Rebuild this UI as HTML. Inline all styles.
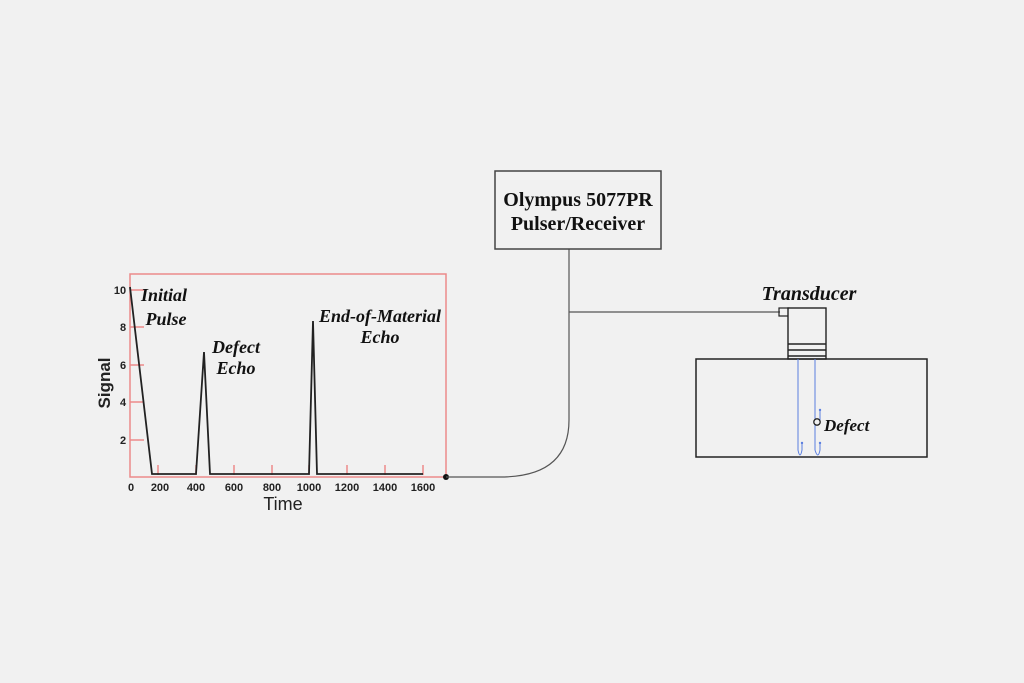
<!DOCTYPE html>
<html><head><meta charset="utf-8"><style>
html,body{margin:0;padding:0;background:#f1f1f1;width:1024px;height:683px;overflow:hidden}
svg{display:block}
.ser{font-family:"Liberation Serif",serif;font-weight:bold}
.ita{font-family:"Liberation Serif",serif;font-weight:bold;font-style:italic}
.san{font-family:"Liberation Sans",sans-serif;font-weight:bold}
</style></head><body>
<svg width="1024" height="683" viewBox="0 0 1024 683" xmlns="http://www.w3.org/2000/svg">
<rect width="1024" height="683" fill="#f1f1f1"/>
<rect x="130" y="274" width="316" height="203" fill="none" stroke="#ec8a8a" stroke-width="1.5"/>
<g stroke="#ec8a8a" stroke-width="1.5">
<line x1="130" y1="290" x2="144" y2="290"/>
<line x1="130" y1="327" x2="144" y2="327"/>
<line x1="130" y1="365" x2="144" y2="365"/>
<line x1="130" y1="402" x2="144" y2="402"/>
<line x1="130" y1="440" x2="144" y2="440"/>
<line x1="158" y1="465" x2="158" y2="475"/>
<line x1="196" y1="465" x2="196" y2="475"/>
<line x1="234" y1="465" x2="234" y2="475"/>
<line x1="272" y1="465" x2="272" y2="475"/>
<line x1="309" y1="465" x2="309" y2="475"/>
<line x1="347" y1="465" x2="347" y2="475"/>
<line x1="385" y1="465" x2="385" y2="475"/>
<line x1="423" y1="465" x2="423" y2="475"/>
</g>
<polyline points="130,287 152,474 196,474 204,352 210,474 309,474 313,321 317,474 423,474" fill="none" stroke="#222" stroke-width="1.8"/>
<g class="san" font-size="11" fill="#222" text-anchor="middle">
<text x="120" y="294">10</text><text x="123" y="331">8</text><text x="123" y="369">6</text><text x="123" y="406">4</text><text x="123" y="444">2</text>
<text x="131" y="491">0</text><text x="160" y="491">200</text><text x="196" y="491">400</text><text x="234" y="491">600</text><text x="272" y="491">800</text><text x="309" y="491">1000</text><text x="347" y="491">1200</text><text x="385" y="491">1400</text><text x="423" y="491">1600</text>
</g>
<text x="283" y="510" font-family="Liberation Sans, sans-serif" font-size="18" fill="#222" text-anchor="middle">Time</text>
<text transform="translate(110,383) rotate(-90)" class="san" font-size="17" fill="#222" text-anchor="middle">Signal</text>
<g class="ita" font-size="18" fill="#111" text-anchor="middle">
<text x="164" y="301">Initial</text><text x="166" y="325">Pulse</text>
<text x="236" y="353">Defect</text><text x="236" y="374">Echo</text>
<text x="380" y="322">End-of-Material</text><text x="380" y="343">Echo</text>
</g>
<circle cx="446" cy="477" r="3" fill="#111"/>
<path d="M446,477 L500,477 Q569,477 569,420 L569,249" fill="none" stroke="#555" stroke-width="1.2"/>
<line x1="569" y1="312" x2="780" y2="312" stroke="#555" stroke-width="1.2"/>
<rect x="495" y="171" width="166" height="78" fill="#f1f1f1" stroke="#444" stroke-width="1.5"/>
<text x="578" y="206" class="ser" font-size="20" fill="#111" text-anchor="middle">Olympus 5077PR</text>
<text x="578" y="230" class="ser" font-size="20" fill="#111" text-anchor="middle">Pulser/Receiver</text>
<text x="809" y="300" class="ita" font-size="20" fill="#111" text-anchor="middle">Transducer</text>
<rect x="779" y="308" width="10" height="8" fill="none" stroke="#222" stroke-width="1.2"/>
<rect x="788" y="308" width="38" height="51" fill="#f1f1f1" stroke="#222" stroke-width="1.4"/>
<g stroke="#222" stroke-width="1.6">
<line x1="788" y1="344" x2="826" y2="344"/><line x1="788" y1="350" x2="826" y2="350"/><line x1="788" y1="356" x2="826" y2="356"/>
</g>
<rect x="696" y="359" width="231" height="98" fill="none" stroke="#222" stroke-width="1.5"/>
<g stroke="#5b7fe0" stroke-width="1" fill="none">
<path d="M798,359 L798,450 Q800,460 802,450 L802,443"/>
<path d="M815,359 L815,450 Q818,460 820,450 L820,443"/>
<line x1="820" y1="420" x2="820" y2="410"/>
</g>
<g fill="#5b7fe0"><circle cx="802" cy="443" r="1.2"/><circle cx="820" cy="443" r="1.2"/><circle cx="820" cy="410" r="1.2"/></g>
<circle cx="817" cy="422" r="3.2" fill="#f1f1f1" stroke="#222" stroke-width="1.3"/>
<text x="824" y="431" class="ita" font-size="17" fill="#111">Defect</text>
</svg>
</body></html>
